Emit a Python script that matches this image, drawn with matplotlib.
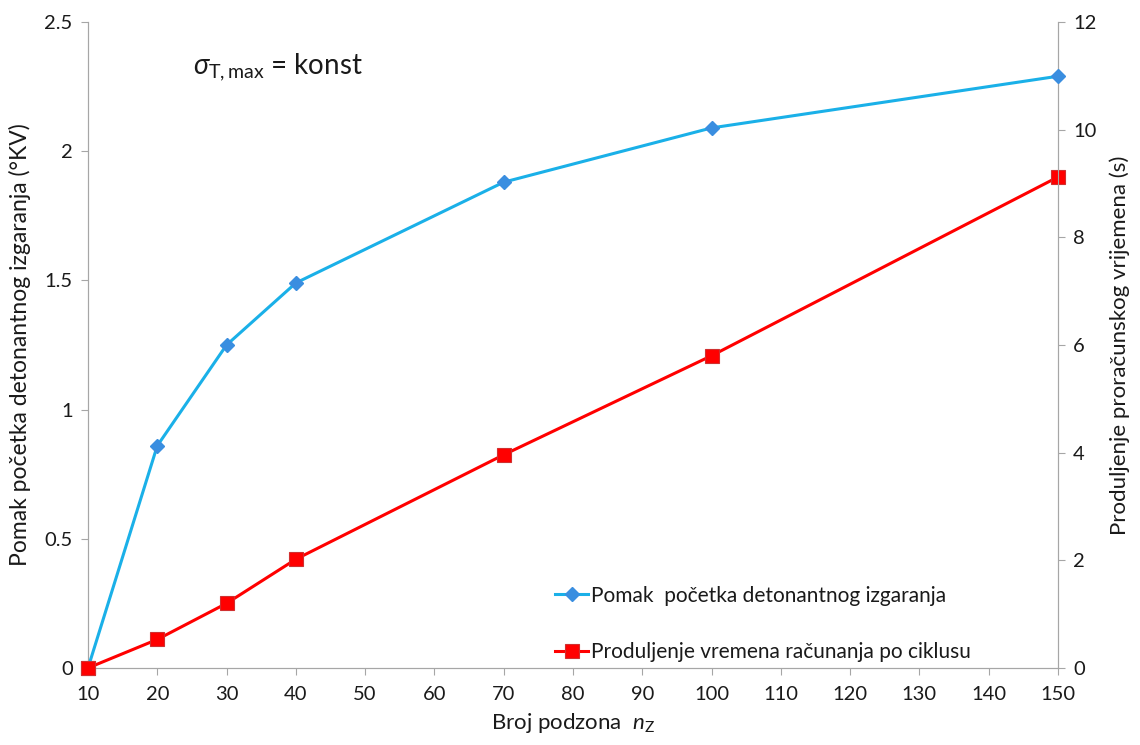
import matplotlib
matplotlib.use("Agg")
import matplotlib.pyplot as plt

plt.rcParams['font.family'] = ['Lato', 'DejaVu Sans']
plt.rcParams['mathtext.fontset'] = 'custom'
plt.rcParams['mathtext.rm'] = 'Lato'
plt.rcParams['mathtext.it'] = 'Lato:italic'

nz = [10, 20, 30, 40, 70, 100, 150]
pomak = [0, 0.86, 1.25, 1.49, 1.88, 2.09, 2.29]
produljenje = [0, 0.53, 1.2, 2.02, 3.96, 5.8, 9.12]

label_pomak = "Pomak  početka detonantnog izgaranja"
label_prod = "Produljenje vremena računanja po ciklusu"

fig = plt.figure(figsize=(11.4, 7.45), dpi=100)
ax = fig.add_axes([0.0772, 0.1034, 0.8508, 0.8671])
ax2 = ax.twinx()
ax.set_zorder(2)
ax.patch.set_visible(False)

l1, = ax.plot(nz, pomak, color="#1ab0e8", lw=2.2, marker="D", ms=7,
              mfc="#3a8ee0", mec="#3a8ee0", label=label_pomak, zorder=3, clip_on=False)
l2, = ax2.plot(nz, produljenje, color="#ff0000", lw=2.2, marker="s", ms=10,
               mfc="#ff0000", mec="#d03030", mew=0.8, label=label_prod, zorder=3, clip_on=False)
# red square at origin sits on top of the blue line
ax.plot(nz[:1], [0], ls="none", marker="s", ms=10, mfc="#ff0000", mec="#d03030",
        mew=0.8, zorder=4, clip_on=False)

ax.set_xlim(10, 150)
ax.set_ylim(0, 2.5)
ax2.set_ylim(0, 12)
ax.set_xticks(range(10, 151, 10))
ax.set_yticks([0, 0.5, 1, 1.5, 2, 2.5])
ax.set_yticklabels(["0", "0.5", "1", "1.5", "2", "2.5"])
ax2.set_yticks(range(0, 13, 2))

for a in (ax, ax2):
    for s in a.spines.values():
        s.set_color("#a6a6a6")
    a.spines['top'].set_visible(False)
    a.tick_params(colors="#a6a6a6", labelcolor="#1a1a1a", labelsize=14.5, length=5)
ax.tick_params(axis='x', pad=8)
ax.tick_params(axis='y', pad=6)
ax2.tick_params(axis='y', pad=6)

ax.set_xlabel("Broj podzona  $n_{\\mathrm{Z}}$", fontsize=16, color="#1a1a1a", labelpad=6)
ax.set_ylabel("Pomak početka detonantnog izgaranja (°KV)", fontsize=16.5, color="#1a1a1a", labelpad=10)
ax2.set_ylabel("Produljenje proračunskog vrijemena (s)", fontsize=16, color="#1a1a1a", labelpad=9)

ax.text(0.108, 0.93, "$\\sigma_{\\mathrm{T,max}}$ = konst", transform=ax.transAxes,
        fontsize=20, color="#1a1a1a", va="center")

ax.legend([l1, l2], [label_pomak, label_prod], loc="lower left",
          bbox_to_anchor=(0.462, -0.02), frameon=False, fontsize=15,
          labelspacing=1.75, handlelength=1.6, handletextpad=0.15,
          labelcolor="#1a1a1a")

fig.savefig("out.png", dpi=100)
